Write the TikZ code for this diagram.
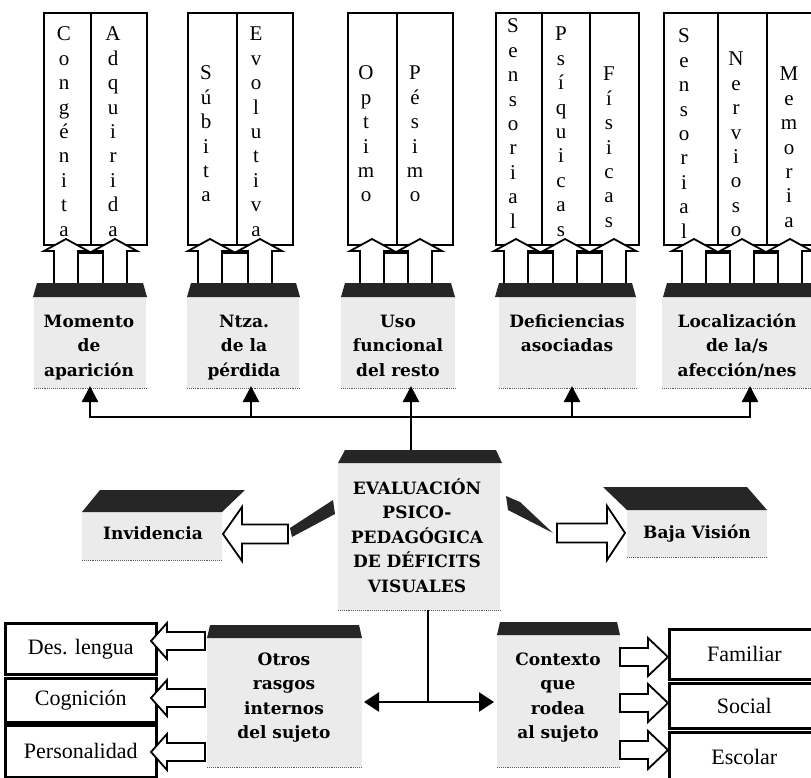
\documentclass[tikz,border=0pt]{standalone}
\usepackage{fontspec}
\setmainfont{Liberation Serif}
\newfontfamily\lblfont{DejaVu Serif}
\usetikzlibrary{arrows.meta,calc}
\newcommand\mystack[1]{\begin{tabular}[t]{@{}c@{}}#1\end{tabular}}
% hollow horizontal arrow: tip x, head-base x, tail x, centre y, head half, shaft half
\newcommand\harrow[6]{\draw[hollow] (#1,#4) -- (#2,#4-#5) -- (#2,#4-#6) -- (#3,#4-#6) -- (#3,#4+#6) -- (#2,#4+#6) -- (#2,#4+#5) -- cycle;}
% hollow up arrow: centre x
\newcommand\uparr[1]{\draw[hollow] (#1,239) -- (#1+22,251) -- (#1+12,251) -- (#1+12,289) -- (#1-12,289) -- (#1-12,251) -- (#1-22,251) -- cycle;}
\newcommand\gapbox[2]{\draw[line width=1.5pt,fill=white] (#1+12,253) rectangle (#2-12,289);}
\begin{document}
\begin{tikzpicture}[x=1pt,y=-1pt,
  colbox/.style={draw,line width=2.4pt,fill=white},
  roof/.style={fill=black!85},
  body/.style={fill=black!8,inner sep=0pt,anchor=north west},
  dotline/.style={draw=black!65,densely dotted,line width=0.9pt},
  lbl/.style={font=\lblfont\bfseries\fontsize{17}{24.5}\selectfont,anchor=base,inner sep=0pt},
  letters/.style={font=\fontsize{21}{24.4}\selectfont,anchor=base,inner sep=0pt},
  sidebox/.style={draw,line width=2.6pt,fill=white,anchor=north west,inner sep=0pt,font=\fontsize{22}{24}\selectfont},
  conn/.style={line width=2.4pt,line join=miter,-{Triangle[length=16pt,width=16pt]}},
  dconn/.style={line width=2.4pt,{Triangle[length=15pt,width=19pt]}-{Triangle[length=15pt,width=19pt]}},
  plain/.style={line width=2.4pt},
  hollow/.style={draw,line width=1.8pt,fill=white,line join=miter}
]
\useasboundingbox (0,0) rectangle (811,778);

% ---------- top column groups ----------
\node[colbox,anchor=north west,minimum width=103pt,minimum height=232pt,inner sep=0pt] (g1) at (43,12) {};
\draw[line width=1.5pt] (91,12) -- (91,244);
\node[colbox,anchor=north west,minimum width=105pt,minimum height=232pt,inner sep=0pt] (g2) at (187,12) {};
\draw[line width=1.5pt] (237,12) -- (237,244);
\node[colbox,anchor=north west,minimum width=105pt,minimum height=232pt,inner sep=0pt] (g3) at (347,12) {};
\draw[line width=1.5pt] (397,12) -- (397,244);
\node[colbox,anchor=north west,minimum width=143pt,minimum height=232pt,inner sep=0pt] (g4) at (495,12) {};
\draw[line width=1.5pt] (542,12) -- (542,244);
\draw[line width=1.5pt] (590,12) -- (590,244);
\node[colbox,anchor=north west,minimum width=152pt,minimum height=232pt,inner sep=0pt] (g5) at (663,12) {};
\draw[line width=1.5pt] (718,12) -- (718,244);
\draw[line width=1.5pt] (767,12) -- (767,244);

\node[letters] (w1) at (64,41) {\mystack{C\\o\\n\\g\\é\\n\\i\\t\\a}};
\node[letters] (w2) at (113,41) {\mystack{A\\d\\q\\u\\i\\r\\i\\d\\a}};
\node[letters] (w3) at (206,80) {\mystack{S\\ú\\b\\i\\t\\a}};
\node[letters] (w4) at (256,41) {\mystack{E\\v\\o\\l\\u\\t\\i\\v\\a}};
\node[letters] (w5) at (366,80) {\mystack{O\\p\\t\\i\\m\\o}};
\node[letters] (w6) at (415,80) {\mystack{P\\é\\s\\i\\m\\o}};
\node[letters] (w7) at (513,33) {\mystack{S\\e\\n\\s\\o\\r\\i\\a\\l}};
\node[letters] (w8) at (561,41) {\mystack{P\\s\\í\\q\\u\\i\\c\\a\\s}};
\node[letters] (w9) at (609,81) {\mystack{F\\í\\s\\i\\c\\a\\s}};
\node[letters] (w10) at (684,43) {\mystack{S\\e\\n\\s\\o\\r\\i\\a\\l}};
\node[letters] (w11) at (736,66) {\mystack{N\\e\\r\\v\\i\\o\\s\\o}};
\node[letters] (w12) at (789,81) {\mystack{M\\e\\m\\o\\r\\i\\a}};

% gap boxes and hollow up arrows
\gapbox{66}{115}
\gapbox{210}{260}
\gapbox{372}{420}
\gapbox{516}{565}\gapbox{565}{614}
\gapbox{694}{742}\gapbox{742}{790}
\uparr{66}\uparr{115}
\uparr{210}\uparr{260}
\uparr{372}\uparr{420}
\uparr{516}\uparr{565}\uparr{614}
\uparr{694}\uparr{742}\uparr{790}

% ---------- top label blocks ----------
\node[body,minimum width=112pt,minimum height=91pt] (B1) at (34,297) {};
\node[body,minimum width=112pt,minimum height=91pt] (B2) at (187,297) {};
\node[body,minimum width=114pt,minimum height=91pt] (B3) at (341,297) {};
\node[body,minimum width=137pt,minimum height=91pt] (B4) at (499,297) {};
\node[body,minimum width=153pt,minimum height=91pt] (B5) at (662,297) {};
\fill[roof] (33,297) -- (37,283) -- (143,283) -- (147,297) -- cycle;
\fill[roof] (187,297) -- (191,283) -- (296,283) -- (300,297) -- cycle;
\fill[roof] (341,297) -- (345,283) -- (451,283) -- (455,297) -- cycle;
\fill[roof] (495,297) -- (499,283) -- (632,283) -- (636,297) -- cycle;
\fill[roof] (663,297) -- (667,283) -- (815,283) -- (815,297) -- cycle;
\foreach \b in {B1,B2,B3,B4,B5} \draw[dotline] (\b.south west) -- (\b.south east);

\node[lbl] (T1) at (89,327) {\mystack{Momento\\de\\aparición}};
\node[lbl] (T2) at (244,327) {\mystack{Ntza.\\de la\\pérdida}};
\node[lbl] (T3) at (398,327) {\mystack{Uso\\funcional\\del resto}};
\node[lbl] (T4) at (567,327) {\mystack{Deficiencias\\asociadas}};
\node[lbl] (T5) at (737,327) {\mystack{Localización\\de la/s\\afección/nes}};

% ---------- centre block ----------
\node[body,minimum width=162pt,minimum height=147pt] (C) at (338,463) {};
\fill[roof] (338,463) -- (345,450) -- (496,450) -- (502,463) -- cycle;
\draw[dotline] (C.south west) -- (C.south east);
\node[lbl] (CT) at (417,494) {\mystack{EVALUACIÓN\\PSICO-\\PEDAGÓGICA\\DE DÉFICITS\\VISUALES}};

% ---------- connectors to top ----------
\coordinate (cTop) at (411,450);
\coordinate (hubT) at (411,417);
\coordinate (a1) at (90,386);
\coordinate (a2) at (251,386);
\coordinate (a3) at (411,386);
\coordinate (a4) at (572,386);
\coordinate (a5) at (750,386);
\draw[plain] (cTop) -- (hubT);
\draw[conn] (hubT) -| (a1);
\draw[conn] (hubT) -| (a2);
\draw[conn] (hubT) -- (a3);
\draw[conn] (hubT) -| (a4);
\draw[conn] (hubT) -| (a5);

% ---------- Invidencia / Baja Vision ----------
\node[body,minimum width=140pt,minimum height=48pt] (I) at (82,512) {};
\fill[roof] (82,512) -- (100,490) -- (245,490) -- (222,512) -- cycle;
\draw[dotline] (I.south west) -- (I.south east);
\node[lbl] (IT) at (153,539) {Invidencia};
\node[body,minimum width=140pt,minimum height=47pt] (V) at (627,510) {};
\fill[roof] (627,510) -- (603,487) -- (747,487) -- (767,510) -- cycle;
\draw[dotline] (V.south west) -- (V.south east);
\node[lbl] (VT) at (697,538) {Baja Visión};

\harrow{223}{242}{288}{534}{27}{9.5}
\harrow{625}{607}{557}{533}{27}{9.5}
\fill[black!85] (290,528) -- (333,500) -- (335,514) -- (292,537) -- cycle;
\fill[black!85] (506,496) -- (520,502) -- (553,533) -- (508,510) -- cycle;

% ---------- bottom blocks ----------
\node[body,minimum width=155pt,minimum height=129pt] (O) at (207,638) {};
\fill[roof] (207,638) -- (210,625) -- (359,625) -- (362,638) -- cycle;
\draw[dotline] (O.south west) -- (O.south east);
\node[lbl] (OT) at (284,665) {\mystack{Otros\\rasgos\\internos\\del sujeto}};

\node[body,minimum width=123pt,minimum height=132pt] (K) at (497,635) {};
\fill[roof] (497,635) -- (500,622) -- (617,622) -- (620,635) -- cycle;
\draw[dotline] (K.south west) -- (K.south east);
\node[lbl] (KT) at (558,665) {\mystack{Contexto\\que\\rodea\\al sujeto}};

\coordinate (cBot) at (428,610);
\coordinate (hubB) at (428,702);
\coordinate (oT) at (364,702);
\coordinate (kT) at (494,702);
\draw[plain] (cBot) -- (hubB);
\draw[dconn] (oT) -- (kT);

% ---------- side boxes ----------
\node[sidebox,minimum width=151pt,minimum height=51pt] (L1) at (4,622) {Des. lengua};
\node[sidebox,minimum width=151pt,minimum height=44pt] (L2) at (4,677) {Cognición};
\node[sidebox,minimum width=151pt,minimum height=52pt] (L3) at (4,724) {Personalidad};
\node[sidebox,minimum width=150pt,minimum height=50pt] (R1) at (668,628) {Familiar};
\node[sidebox,minimum width=150pt,minimum height=45pt] (R2) at (668,682) {Social};
\node[sidebox,minimum width=150pt,minimum height=49pt] (R3) at (668,731) {Escolar};

\harrow{151}{167}{205}{641}{18}{9}
\harrow{151}{167}{205}{698}{18}{9}
\harrow{151}{167}{205}{752}{18}{9}
\harrow{668}{648}{620}{657}{19}{9}
\harrow{668}{648}{620}{703}{19}{9}
\harrow{668}{648}{620}{750}{19}{9}
\end{tikzpicture}
\end{document}
